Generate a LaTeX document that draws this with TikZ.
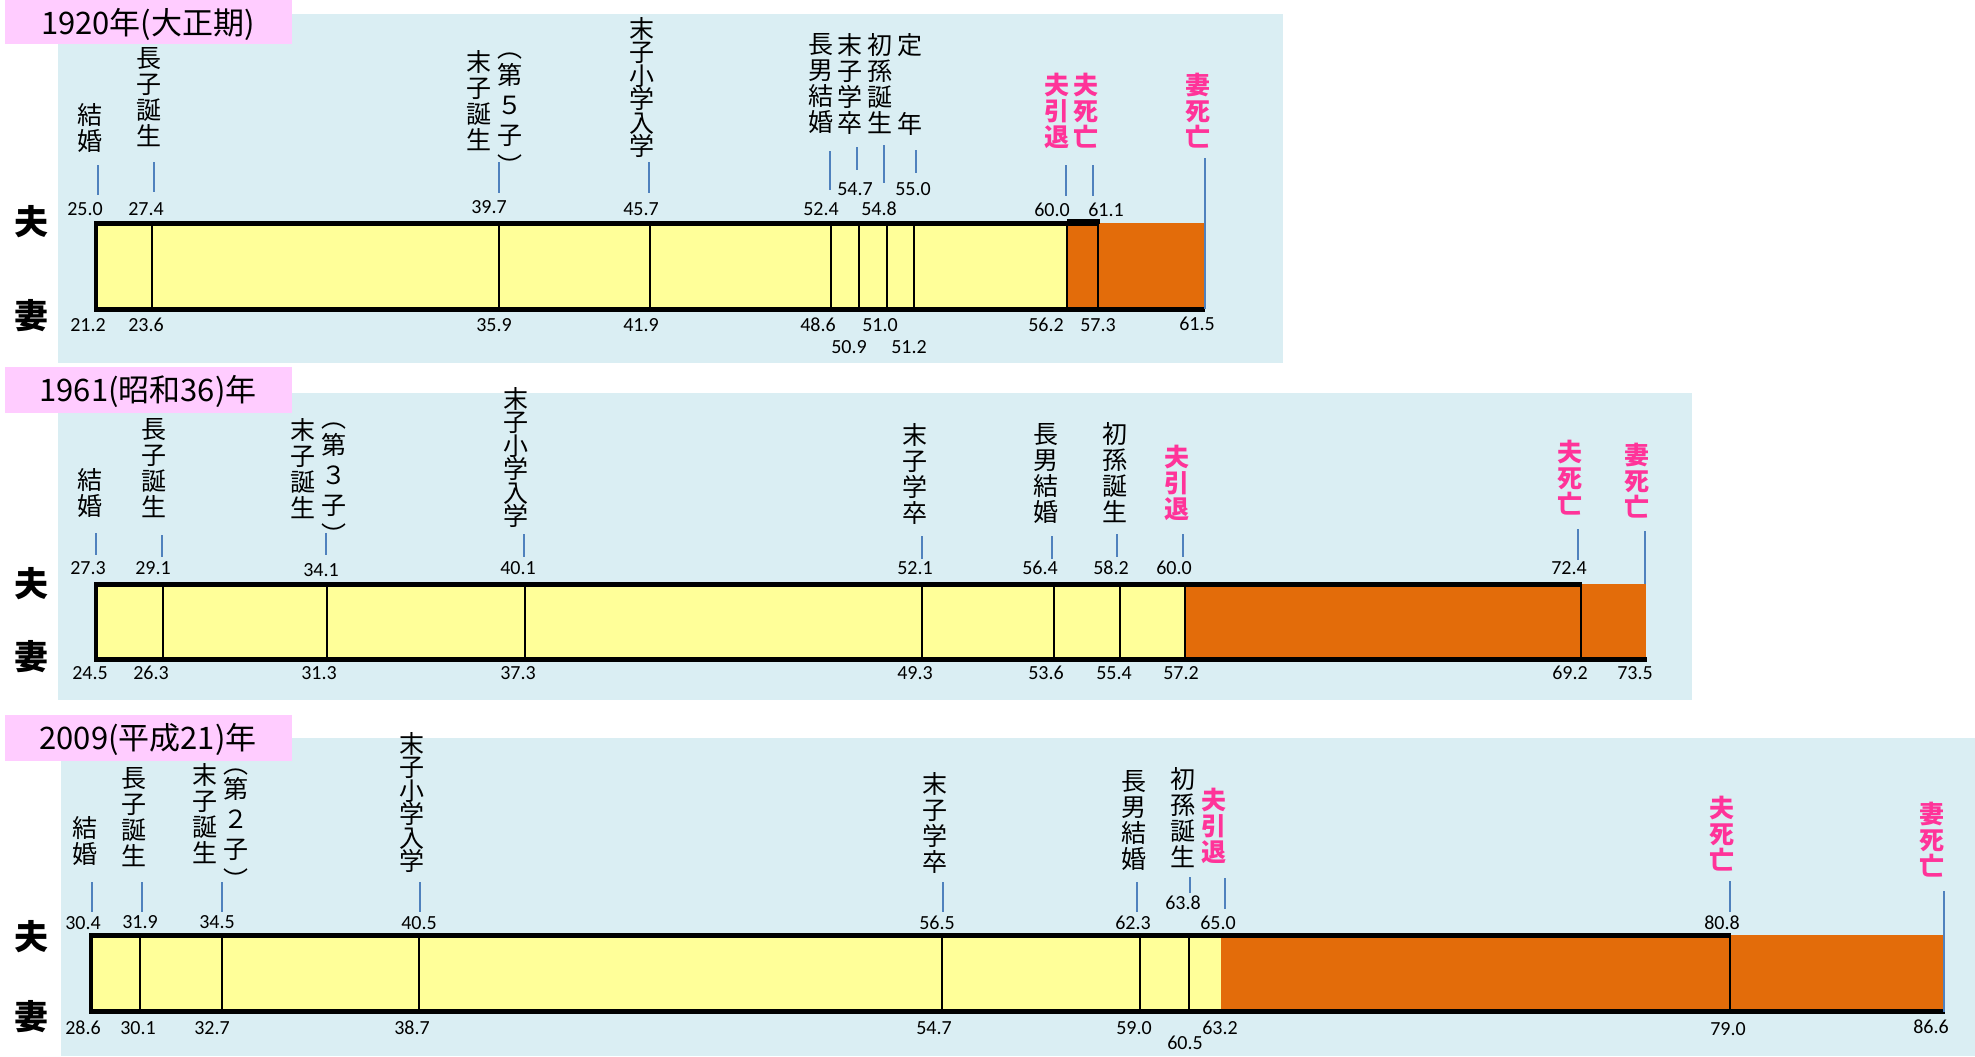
\documentclass[tikz,border=0pt]{standalone}
\usepackage{fontspec}
\newfontfamily\jp{Noto Sans CJK JP}
\newfontfamily\num{Carlito}
\definecolor{bgblue}{HTML}{DAEEF3}
\definecolor{tpink}{HTML}{FFCCFF}
\definecolor{byel}{HTML}{FFFF99}
\definecolor{bor}{HTML}{E36C0A}
\definecolor{mag}{HTML}{FF3399}
\definecolor{ldb}{HTML}{4F81BD}
\begin{document}
\begin{tikzpicture}[x=0.5pt,y=-0.5pt,
 vl/.style={font=\jp\fontsize{12.5}{13}\selectfont,align=center,inner sep=0pt,anchor=north},
 vs/.style={vl,font=\jp\fontsize{12.5}{11.7}\selectfont},
 vp/.style={vl,font=\jp\fontsize{12.5}{15}\selectfont},
 vm/.style={vl,text=mag,font=\jp\bfseries\fontsize{12.5}{13}\selectfont},
 vpar/.style={font=\jp\fontsize{12.5}{12.5}\selectfont,inner sep=0pt},
 nm/.style={font=\num\fontsize{10}{10}\selectfont,inner sep=0pt},
 side/.style={font=\jp\bfseries\fontsize{17}{17}\selectfont,inner sep=0pt},
 ttl/.style={font=\jp\fontsize{15.5}{15.5}\selectfont,inner sep=0pt},
 ld/.style={draw=ldb,line width=1pt},
 dv/.style={line width=1.1pt},
 thk/.style={line width=2.5pt},
 lft/.style={line width=1.75pt}]
\useasboundingbox (0,0) rectangle (1975,1056);
% ---------- backgrounds ----------
\fill[bgblue] (58,14) rectangle (1283,363);
\fill[bgblue] (58,393) rectangle (1692,700);
\fill[bgblue] (61,738) rectangle (1975,1056);
\fill[tpink] (5,0) rectangle (292,44);
\fill[tpink] (5,367) rectangle (292,413);
\fill[tpink] (5,715) rectangle (292,761);
\node[ttl] (t1) at (148,24) {1920年(大正期)};
\node[ttl] (t2) at (148,391) {1961(昭和36)年};
\node[ttl] (t3) at (148,739) {2009(平成21)年};
\node[side] (h1) at (31,222) {夫};
\node[side] (w1) at (31,316) {妻};
\node[side] (h2) at (31,584) {夫};
\node[side] (w2) at (31,657) {妻};
\node[side] (h3) at (31,937) {夫};
\node[side] (w3) at (31,1017) {妻};
% ---------- section 1 bar ----------
\fill[byel] (96,223) rectangle (1067,309);
\fill[bor] (1067,223) rectangle (1204,309);
\foreach \x in {152,499,650,831,859,887,914,1067,1098} \draw[dv] (\x,223) -- (\x,309);
\draw[thk] (94.25,223) -- (1098,223);
\draw[thk] (1067,221) -- (1099.5,221);
\draw[thk] (94.25,309) -- (1205,309);
\draw[lft] (96,223) -- (96,309);
% ---------- section 2 bar ----------
\fill[byel] (96,584) rectangle (1185,659);
\fill[bor] (1185,584) rectangle (1646,659);
\foreach \x in {163,327,525,922,1054,1120,1185,1581} \draw[dv] (\x,584) -- (\x,659);
\draw[thk] (94.25,584) -- (1582,584);
\draw[thk] (94.25,659) -- (1647,659);
\draw[lft] (96,584) -- (96,659);
% ---------- section 3 bar ----------
\fill[byel] (91,935) rectangle (1221,1011);
\fill[bor] (1221,935) rectangle (1944,1011);
\foreach \x in {140,222,419,942,1140,1189,1730} \draw[dv] (\x,935) -- (\x,1011);
\draw[thk] (89.25,935) -- (1731,935);
\draw[thk] (89.25,1011) -- (1945,1011);
\draw[lft] (91,935) -- (91,1011);
% ---------- section 1 labels ----------
\node[vl] (a1) at (90,103) {結\\婚};
\node[vl] (a2) at (149,47) {長\\子\\誕\\生};
\node[vl] (a3) at (479,50) {末\\子\\誕\\生};
\node[vp] (a3b) at (510,63) {第\\５\\子};
\node[vpar] (a3o) at (510,56) {︵};
\node[vpar] (a3c) at (510,165) {︶};
\node[vs] (a4) at (642,17) {末\\子\\小\\学\\入\\学};
\node[vl] (a5) at (821,33) {長\\男\\結\\婚};
\node[vl] (a6) at (850,33) {末\\子\\学\\卒};
\node[vl] (a7) at (880,33) {初\\孫\\誕\\生};
\node[vl] (a8) at (910,33) {定};
\node[vl] (a8b) at (910,112) {年};
\node[vm] (a9) at (1057,73) {夫\\引\\退};
\node[vm] (a10) at (1086,73) {夫\\死\\亡};
\node[vm] (a11) at (1198,73) {妻\\死\\亡};
\foreach \x/\ya/\yb in {98/165/195,154/162/192,499/162/193,649/162/193,830/151/190,857/147/170,884/145/183,916/150/173,1066/165/196,1093/165/196,1205/158/309}
  \draw[ld] (\x,\ya) -- (\x,\yb);
\foreach \x/\y/\v [count=\i] in {85/209/25.0,146/209/27.4,489/207/39.7,641/209/45.7,821/209/52.4,855/189/54.7,879/209/54.8,913/189/55.0,1052/210/60.0,1106/210/61.1}
  \node[nm] (u1n\i) at (\x,\y) {\v};
\foreach \x/\y/\v [count=\i] in {88/325/21.2,146/325/23.6,494/325/35.9,641/325/41.9,818/325/48.6,849/347/50.9,880/325/51.0,909/347/51.2,1046/325/56.2,1098/325/57.3,1197/324/61.5}
  \node[nm] (d1n\i) at (\x,\y) {\v};
% ---------- section 2 labels ----------
\node[vl] (b1) at (90,468) {結\\婚};
\node[vl] (b2) at (154,418) {長\\子\\誕\\生};
\node[vl] (b3) at (303,418) {末\\子\\誕\\生};
\node[vp] (b3b) at (334,433) {第\\３\\子};
\node[vpar] (b3o) at (334,426) {︵};
\node[vpar] (b3c) at (334,534) {︶};
\node[vs] (b4) at (516,387) {末\\子\\小\\学\\入\\学};
\node[vl] (b5) at (915,423) {末\\子\\学\\卒};
\node[vl] (b6) at (1046,423) {長\\男\\結\\婚};
\node[vl] (b7) at (1115,422) {初\\孫\\誕\\生};
\node[vm] (b8) at (1177,445) {夫\\引\\退};
\node[vm] (b9) at (1570,440) {夫\\死\\亡};
\node[vm] (b10) at (1637,443) {妻\\死\\亡};
\foreach \x/\ya/\yb in {96/533/555,162/535/557,326/533/555,524/534/557,922/536/559,1052/536/559,1117/534/557,1183/534/557,1578/529/560,1645/531/584}
  \draw[ld] (\x,\ya) -- (\x,\yb);
\foreach \x/\y/\v [count=\i] in {88/568/27.3,153/568/29.1,321/570/34.1,518/568/40.1,915/568/52.1,1040/568/56.4,1111/568/58.2,1174/568/60.0,1569/568/72.4}
  \node[nm] (u2n\i) at (\x,\y) {\v};
\foreach \x/\v [count=\i] in {90/24.5,151/26.3,319/31.3,518/37.3,915/49.3,1046/53.6,1114/55.4,1181/57.2,1570/69.2,1635/73.5}
  \node[nm] (d2n\i) at (\x,673) {\v};
% ---------- section 3 labels ----------
\node[vl] (c1) at (85,816) {結\\婚};
\node[vl] (c2) at (134,767) {長\\子\\誕\\生};
\node[vl] (c3) at (205,763) {末\\子\\誕\\生};
\node[vp] (c3b) at (236,777) {第\\２\\子};
\node[vpar] (c3o) at (236,772) {︵};
\node[vpar] (c3c) at (236,879) {︶};
\node[vs] (c4) at (412,732) {末\\子\\小\\学\\入\\学};
\node[vl] (c5) at (935,772) {末\\子\\学\\卒};
\node[vl] (c6) at (1134,770) {長\\男\\結\\婚};
\node[vl] (c7) at (1183,767) {初\\孫\\誕\\生};
\node[vm] (c8) at (1214,788) {夫\\引\\退};
\node[vm] (c9) at (1722,796) {夫\\死\\亡};
\node[vm] (c10) at (1932,802) {妻\\死\\亡};
\foreach \x/\ya/\yb in {92/882/912,142/882/912,222/882/912,420/882/912,943/882/912,1137/882/912,1190/877/893,1225/878/909,1730/881/912,1944/891/1012}
  \draw[ld] (\x,\ya) -- (\x,\yb);
\foreach \x/\y/\v [count=\i] in {83/923/30.4,140/922/31.9,217/922/34.5,419/923/40.5,937/923/56.5,1133/923/62.3,1183/903/63.8,1218/923/65.0,1722/923/80.8}
  \node[nm] (u3n\i) at (\x,\y) {\v};
\foreach \x/\y/\v [count=\i] in {83/1028/28.6,138/1028/30.1,212/1028/32.7,412/1028/38.7,934/1028/54.7,1134/1028/59.0,1185/1043/60.5,1220/1028/63.2,1728/1029/79.0,1931/1027/86.6}
  \node[nm] (d3n\i) at (\x,\y) {\v};
\end{tikzpicture}
\end{document}
